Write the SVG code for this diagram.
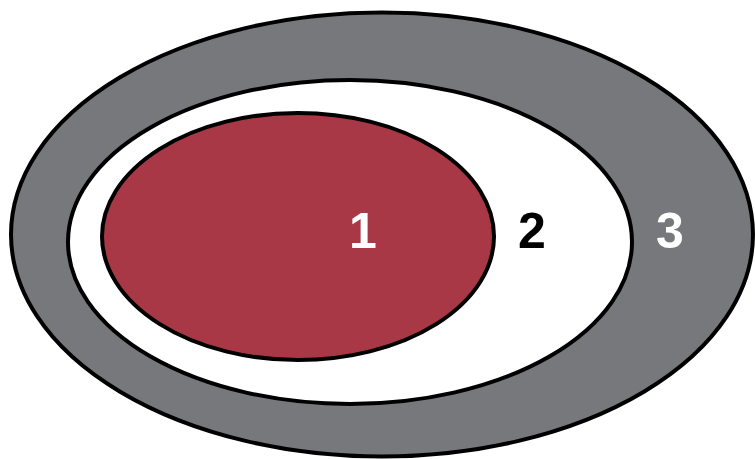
<svg xmlns="http://www.w3.org/2000/svg" width="755" height="459" viewBox="0 0 755 459">
<style>
.ring{stroke:#000;stroke-width:4}
.lbl{font-family:"Liberation Sans",Arial,sans-serif;font-weight:bold;font-size:50px;text-anchor:middle}
</style>
<rect width="755" height="459" fill="#fff"/>
<g id="node3">
<ellipse class="ring" cx="382" cy="234.5" rx="371" ry="222" fill="#77787B"/>
<text class="lbl" x="670" y="248" fill="#fff">3</text>
</g>
<g id="node2">
<ellipse class="ring" cx="350" cy="242" rx="282" ry="162" fill="#fff"/>
<text class="lbl" x="532" y="248" fill="#000">2</text>
</g>
<g id="node1">
<ellipse class="ring" cx="298" cy="236.5" rx="196" ry="123.5" fill="#A83846"/>
<text class="lbl" x="363" y="248" fill="#fff">1</text>
</g>
<g id="connectors"/>
</svg>
